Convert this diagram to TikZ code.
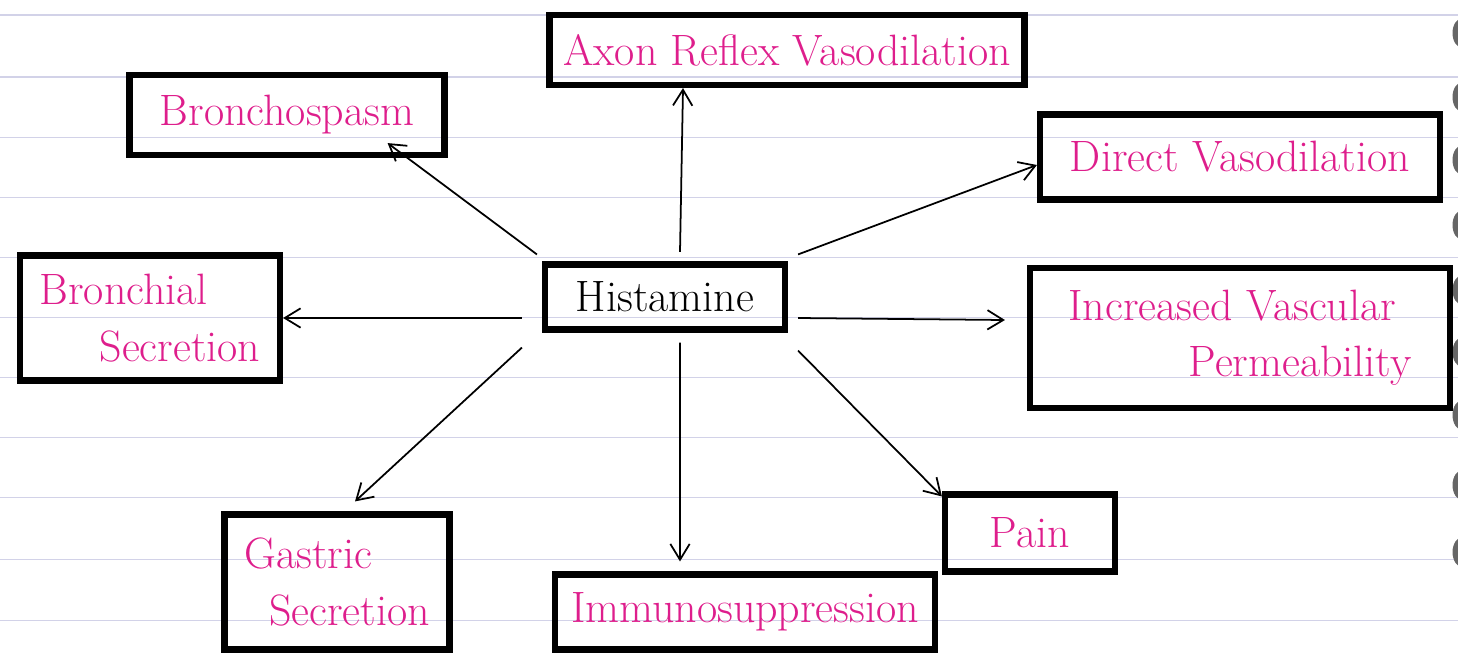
\documentclass[tikz,border=0pt]{standalone}
\usepackage{amsmath}
\usepackage{xcolor}
\usepackage{tikz}
\usetikzlibrary{arrows.meta}

\definecolor{inkpink}{RGB}{222,30,140}
\definecolor{ruled}{RGB}{210,210,232}

\begin{document}
\begin{tikzpicture}[
	box/.style={draw, line width=3.5pt, inner sep=0pt, text=inkpink, font=\fontsize{25}{32}\selectfont},
	arr/.style={-{Straight Barb[length=9pt,width=11pt]}, line width=1pt}]
	\useasboundingbox (0,0) rectangle (29.16,-13.1);
	% notebook page
	\foreach \y in {15,77,137,197,257,317,377,437,497,559,620}
		\draw[ruled, line width=0.6pt] (0,-\y*0.02) -- (29.16,-\y*0.02);
	\foreach \y in {33,97,160,225,290,352,415,485,552}
		\fill[black!60] (29.25,-\y*0.02) ellipse (0.2 and 0.3);

	\node (hist) at (13.3,-5.94) [box, text=black, minimum width=4.8cm, minimum height=1.3cm] {Histamine};
		\node (axon) at (15.74,-1.0) [box, minimum width=9.5cm, minimum height=1.4cm] {Axon Reflex Vasodilation};
		\node (bspasm) at (5.74,-2.3) [box, minimum width=6.3cm, minimum height=1.6cm] {Bronchospasm};
		\node (direct) at (24.8,-3.14) [box, minimum width=8.0cm, minimum height=1.7cm] {Direct Vasodilation};
		\node (bsecr) at (3.0,-6.36) [box, minimum width=5.2cm, minimum height=2.5cm, align=left] {Bronchial\\\hspace*{1.2cm}Secretion};
		\node (perm) at (24.8,-6.76) [box, minimum width=8.4cm, minimum height=2.8cm, align=left] {Increased Vascular\\\hspace*{2.4cm}Permeability};
		\node (gastric) at (6.74,-11.64) [box, minimum width=4.5cm, minimum height=2.7cm, align=left] {Gastric\\\hspace*{0.5cm}Secretion};
		\node (immuno) at (14.9,-12.24) [box, minimum width=7.6cm, minimum height=1.5cm] {Immunosuppression};
		\node (pain) at (20.6,-10.66) [box, minimum width=3.4cm, minimum height=1.54cm] {Pain};

	\draw ([xshift=0.3cm,yshift=0.19cm]hist.north) edge[arr] ([xshift=-2.08cm]axon.south)
		  ([xshift=-0.1cm,yshift=0.14cm]hist.north west) edge[arr] ([xshift=-1.2cm,yshift=0.3cm]bspasm.south east)
		  ([xshift=0.2cm,yshift=0.14cm]hist.north east) edge[arr] ([yshift=-0.16cm]direct.west)
		  ([xshift=-0.4cm,yshift=-0.42cm]hist.west) edge[arr] (bsecr.east)
		  ([xshift=0.2cm,yshift=-0.42cm]hist.east) edge[arr] ([xshift=-0.44cm,yshift=0.36cm]perm.west)
		  ([xshift=-0.4cm,yshift=-0.3cm]hist.south west) edge[arr] ([xshift=0.36cm,yshift=0.2cm]gastric.north)
		  ([xshift=0.3cm,yshift=-0.2cm]hist.south) edge[arr] ([xshift=-1.3cm,yshift=0.2cm]immuno.north)
		  ([xshift=0.2cm,yshift=-0.36cm]hist.south east) edge[arr] ([yshift=-0.1cm]pain.north west);
\end{tikzpicture}
\end{document}
